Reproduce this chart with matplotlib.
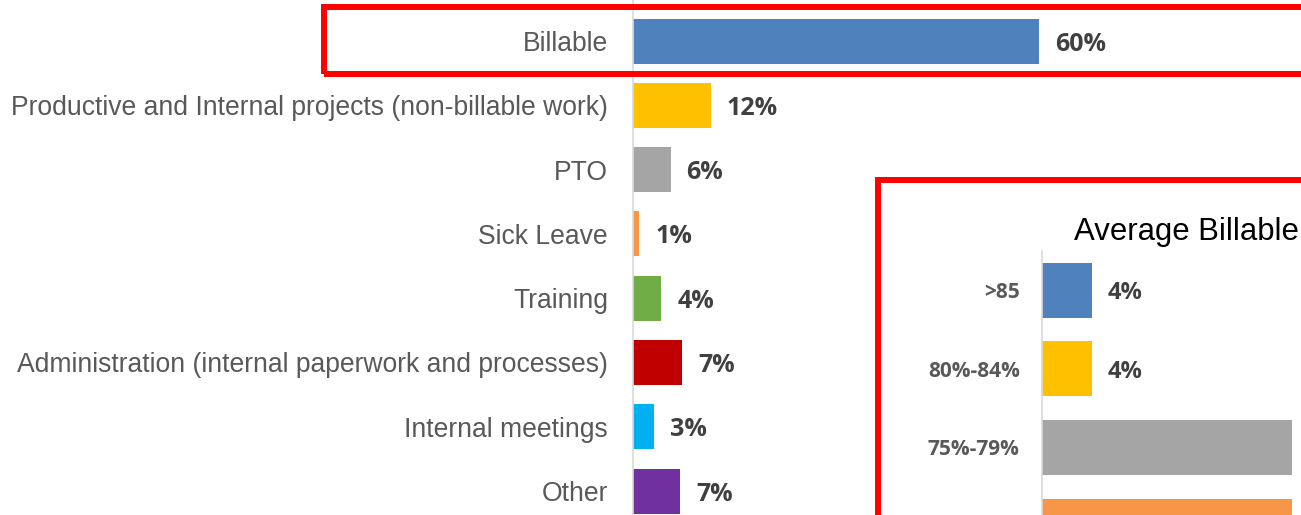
import matplotlib.pyplot as plt
from matplotlib.patches import Rectangle

# main breakdown of hours
cats = ["Billable", "Productive and Internal projects (non-billable work)", "PTO",
        "Sick Leave", "Training", "Administration (internal paperwork and processes)",
        "Internal meetings", "Other"]
vals = [60.4, 11.6, 5.6, 0.9, 4.2, 7.3, 3.1, 7.0]
cols = ["#4F81BD", "#FFC000", "#A5A5A5", "#F79646", "#70AD47", "#C00000", "#00B0F0", "#7030A0"]

# inset: average billable
inset_title = "Average Billable"
inset_cats = [">85", "80%-84%", "75%-79%", "70%-74%"]
inset_vals = [4, 4, 20, 20]
inset_cols = ["#4F81BD", "#FFC000", "#A5A5A5", "#F79646"]
n_shown = 2  # only the first value labels fall inside the picture

W, H = 1301, 515
fig = plt.figure(figsize=(W / 100, H / 100), dpi=100)
fig.patch.set_facecolor("white")

ax = fig.add_axes([633 / W, 0, (W - 633) / W, 1])
ax.barh(range(len(cats)), vals, height=0.7, color=cols)
ax.set_xlim(0, (W - 633) / 6.72)
ax.set_ylim(7.373, -0.638)
ax.set_yticks(range(len(cats)))
ax.set_yticklabels(cats, fontsize=19.1, color="#595959", family="Liberation Sans")
ax.tick_params(axis="y", length=0, pad=18)
ax.set_xticks([])
for s in ["top", "right", "bottom"]:
    ax.spines[s].set_visible(False)
ax.spines["left"].set_color("#D9D9D9")
ax.spines["left"].set_linewidth(1.2)
for i, v in enumerate(vals):
    ax.annotate(f"{round(v)}%", (v, i), xytext=(11.5, 0), textcoords="offset points",
                va="center_baseline", ha="left", fontsize=18, fontweight="bold",
                color="#404040", family="Open Sans")

# red highlight round Billable
fig.add_artist(Rectangle((324 / W, 1 - 74 / H), (1310 - 324) / W, 67 / H,
                         transform=fig.transFigure, fill=False, edgecolor="red",
                         linewidth=4.3, zorder=5))

# inset box
fig.add_artist(Rectangle((878 / W, -20 / H), (1320 - 878) / W, (H + 20 - 180) / H,
                         transform=fig.transFigure, facecolor="white", edgecolor="red",
                         linewidth=4.3, zorder=1))
fig.text(1074 / W, 1 - 232 / H, inset_title, fontsize=22.4, color="black",
         family="Liberation Sans", va="center", ha="left", zorder=3)

ax2 = fig.add_axes([1042 / W, 0, (W - 1042) / W, (H - 251) / H], zorder=2)
ax2.patch.set_alpha(0)
ax2.barh(range(len(inset_cats)), inset_vals, height=0.7, color=inset_cols)
ax2.set_xlim(0, (W - 1042) / 12.5)
ax2.set_ylim(2.86, -0.5)
ax2.set_yticks(range(3))
ax2.set_yticklabels(inset_cats[:3], fontsize=15, fontweight="bold", color="#595959",
                    family="Open Sans")
ax2.tick_params(axis="y", length=0, pad=16)
ax2.set_xticks([])
for s in ["top", "right", "bottom"]:
    ax2.spines[s].set_visible(False)
ax2.spines["left"].set_color("#D9D9D9")
ax2.spines["left"].set_linewidth(1.2)
for i, v in enumerate(inset_vals[:n_shown]):
    ax2.annotate(f"{v}%", (v, i), xytext=(11.5, 0), textcoords="offset points",
                 va="center_baseline", ha="left", fontsize=17, fontweight="bold",
                 color="#404040", family="Open Sans")

fig.savefig("out.png", dpi=100)
